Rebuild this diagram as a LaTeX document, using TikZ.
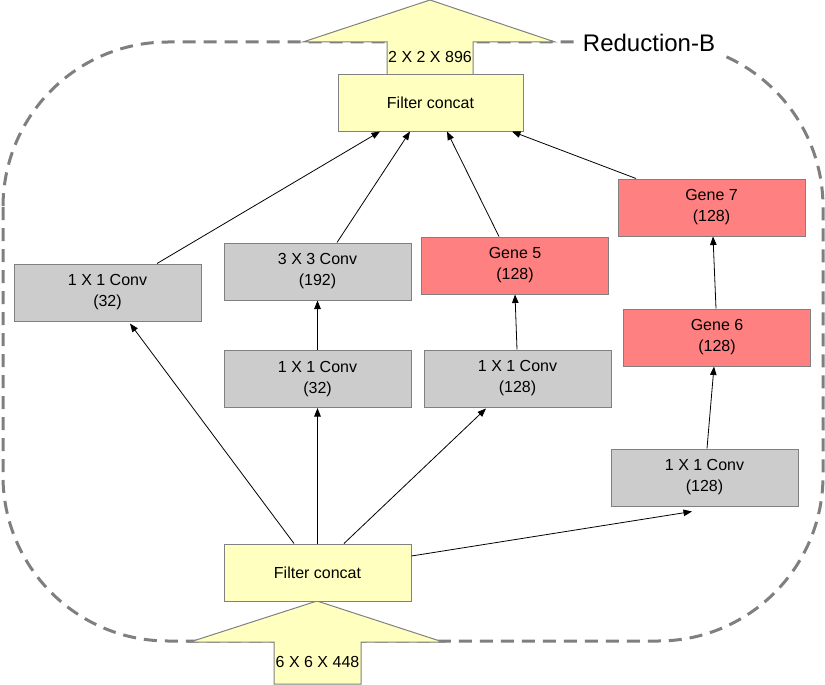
\documentclass[tikz,border=0pt]{standalone}
\usepackage{fontspec}
\setmainfont{Liberation Sans}
\usetikzlibrary{arrows.meta}
\definecolor{fcyel}{HTML}{FFFFC0}
\definecolor{cgray}{HTML}{CCCCCC}
\definecolor{gred}{HTML}{FF8080}
\definecolor{edgegray}{HTML}{808080}
\definecolor{dashgray}{HTML}{7F7F7F}
\begin{document}
\begin{tikzpicture}[x=1pt,y=-1pt,
 box/.style={draw=edgegray, line width=1pt, minimum width=187pt, minimum height=57pt, inner sep=0pt, align=center, font=\fontsize{16}{21}\selectfont},
 yelbox/.style={box, fill=fcyel},
 graybox/.style={box, fill=cgray},
 genebox/.style={box, fill=gred},
 conn/.style={line width=0.8pt, -{Triangle[length=8.5pt,width=6.5pt]}},
 bigarrow/.style={draw=edgegray, line width=1pt, fill=fcyel, line join=miter},
 frame/.style={draw=dashgray, line width=3pt, dash pattern=on 13pt off 8pt, rounded corners=165pt},
 lbl/.style={inner sep=0pt, font=\fontsize{16}{21}\selectfont}
]
\useasboundingbox (0,0) rectangle (825,685);

% dashed frame
\draw[frame] (3,42) rectangle (823,641);
\node[fill=white, inner xsep=8pt, inner ysep=3pt, font=\fontsize{24}{28}\selectfont] (title) at (649,43) {Reduction-B};

% big arrows
\draw[bigarrow] (430,0) -- (555,42) -- (473,42) -- (473,75) -- (387,75) -- (387,42) -- (303,42) -- cycle;
\node[lbl] (outlbl) at (430,57) {2 X 2 X 896};
\draw[bigarrow] (317,601) -- (443,642) -- (361,642) -- (361,684) -- (274,684) -- (274,642) -- (190,642) -- cycle;
\node[lbl] (inlbl) at (317.5,662) {6 X 6 X 448};

% boxes
\node[yelbox, minimum width=185pt, minimum height=56pt] (topfc) at (430.5,103) {Filter concat};
\node[yelbox] (botfc) at (317.5,572.5) {Filter concat};
\node[graybox] (ca) at (107.5,292.5) {1 X 1 Conv\\(32)};
\node[graybox] (cb) at (317.5,271.5) {3 X 3 Conv\\(192)};
\node[graybox] (cc) at (317.5,379) {1 X 1 Conv\\(32)};
\node[genebox] (g5) at (515,265.5) {Gene 5\\(128)};
\node[graybox] (cd) at (517.5,378.5) {1 X 1 Conv\\(128)};
\node[genebox] (g7) at (711.5,207.5) {Gene 7\\(128)};
\node[genebox] (g6) at (717,337.5) {Gene 6\\(128)};
\node[graybox] (ce) at (704.5,477.5) {1 X 1 Conv\\(128)};

% connectors from bottom concat
\draw[conn] ([xshift=-23.5pt]botfc.north) -- ([xshift=22.5pt,yshift=-2pt]ca.south);
\draw[conn] (botfc.north) -- (cc.south);
\draw[conn] ([xshift=26.5pt]botfc.north) -- ([xshift=-31.5pt,yshift=-1pt]cd.south);
\draw[conn] ([yshift=16.5pt]botfc.east) -- ([xshift=-12.5pt,yshift=-5pt]ce.south);

% middle connectors
\draw[conn] (cc.north) -- (cb.south);
\draw[conn] ([xshift=-0.5pt]cd.north) -- (g5.south);
\draw[conn] ([xshift=2.5pt]ce.north) -- ([xshift=-3pt]g6.south);
\draw[conn] ([xshift=-1pt]g6.north) -- ([xshift=1.5pt]g7.south);

% into top concat
\draw[conn] ([xshift=49.5pt]ca.north) -- ([xshift=-50.5pt]topfc.south);
\draw[conn] ([xshift=19.5pt]cb.north) -- ([xshift=-20.5pt]topfc.south);
\draw[conn] ([xshift=-16pt]g5.north) -- ([xshift=16.5pt]topfc.south);
\draw[conn] ([xshift=-75.5pt]g7.north) -- ([xshift=81.5pt]topfc.south);
\end{tikzpicture}
\end{document}
